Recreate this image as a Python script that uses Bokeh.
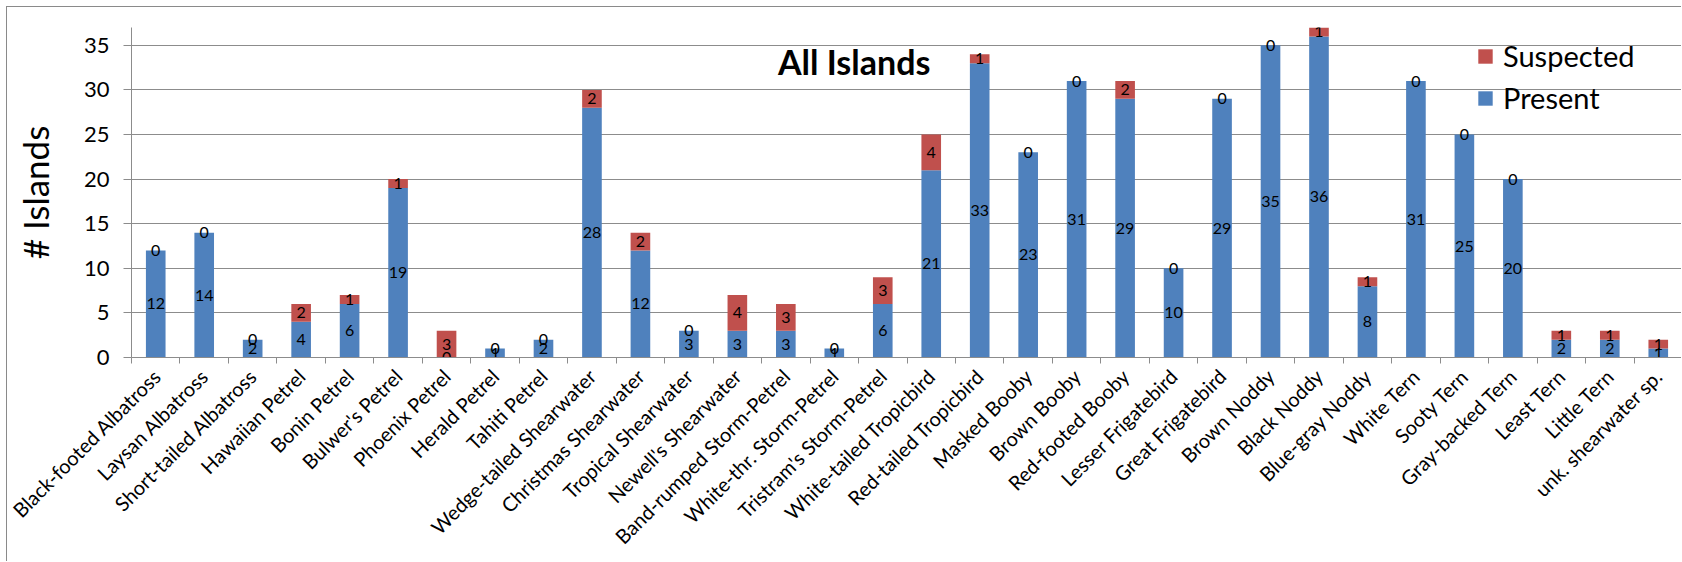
import math
from bokeh.plotting import figure
from bokeh.models import (ColumnDataSource, Range1d, FixedTicker, Legend, LegendItem, Label)
from bokeh.core.properties import value
from bokeh.embed import file_html
from bokeh.resources import INLINE

species = ["Black-footed Albatross", "Laysan Albatross", "Short-tailed Albatross", "Hawaiian Petrel",
           "Bonin Petrel", "Bulwer's Petrel", "Phoenix Petrel", "Herald Petrel", "Tahiti Petrel",
           "Wedge-tailed Shearwater", "Christmas Shearwater", "Tropical Shearwater", "Newell's Shearwater",
           "Band-rumped Storm-Petrel", "White-thr. Storm-Petrel", "Tristram's Storm-Petrel",
           "White-tailed Tropicbird", "Red-tailed Tropicbird", "Masked Booby", "Brown Booby",
           "Red-footed Booby", "Lesser Frigatebird", "Great Frigatebird", "Brown Noddy", "Black Noddy",
           "Blue-gray Noddy", "White Tern", "Sooty Tern", "Gray-backed Tern", "Least Tern",
           "Little Tern", "unk. shearwater sp."]
present = [12, 14, 2, 4, 6, 19, 0, 1, 2, 28, 12, 3, 3, 3, 1, 6, 21, 33, 23, 31, 29, 10, 29, 35, 36,
           8, 31, 25, 20, 2, 2, 1]
suspected = [0, 0, 0, 2, 1, 1, 3, 0, 0, 2, 2, 0, 4, 3, 0, 3, 4, 1, 0, 0, 2, 0, 0, 0, 1, 1, 0, 0, 0,
             1, 1, 1]
y_ticks = [0, 5, 10, 15, 20, 25, 30, 35]
title_text = "All Islands"
y_title = "# Islands"

BLUE = "#4F81BD"
RED = "#C0504D"
GRID = "#8c8c8c"
FONT = "Lato"

n = len(species)
xs = [i + 0.5 for i in range(n)]
src = ColumnDataSource(dict(
    x=xs, present=present, suspected=suspected,
    p_mid=[p / 2 for p in present],
    s_mid=[p + s / 2 for p, s in zip(present, suspected)],
    p_txt=[str(v) for v in present], s_txt=[str(v) for v in suspected],
))

p = figure(width=1675, height=555, x_range=Range1d(0, n), y_range=Range1d(0, 37),
           output_backend="svg", toolbar_location=None,
           min_border_left=124, min_border_right=0, min_border_top=20, min_border_bottom=205)
p.styles = {"margin-left": "6px", "margin-top": "6px",
            "border-left": "1px solid #8a8a8a", "border-top": "1px solid #8a8a8a"}
p.outline_line_color = None
p.background_fill_color = "white"
p.border_fill_color = "white"

rs = p.vbar_stack(["present", "suspected"], x="x", width=0.405, color=[BLUE, RED], source=src,
                  line_color=None)

p.text(x="x", y="p_mid", text="p_txt", source=src, text_align="center", text_baseline="middle",
       text_font=value(FONT), text_font_size="16px", text_color="black")
p.text(x="x", y="s_mid", text="s_txt", source=src, text_align="center", text_baseline="middle",
       text_font=value(FONT), text_font_size="16px", text_color="black")

# axes
p.xgrid.visible = False
p.ygrid.grid_line_color = GRID
p.ygrid.grid_line_width = 1
p.ygrid.ticker = FixedTicker(ticks=y_ticks)

ya = p.yaxis[0]
ya.ticker = FixedTicker(ticks=y_ticks)
ya.axis_line_color = GRID
ya.major_tick_line_color = GRID
ya.major_tick_out = 8
ya.major_tick_in = 0
ya.minor_tick_line_color = None
ya.major_label_text_font = FONT
ya.major_label_text_font_size = "22px"
ya.major_label_text_color = "black"
ya.major_label_standoff = 14
ya.axis_label = y_title
ya.axis_label_text_font = FONT
ya.axis_label_text_font_style = "normal"
ya.axis_label_text_font_size = "35px"
ya.axis_label_text_color = "black"
ya.axis_label_standoff = 25

xa = p.xaxis[0]
xa.ticker = FixedTicker(ticks=xs, minor_ticks=list(range(n + 1)))
xa.major_label_overrides = {x: name for x, name in zip(xs, species)}
xa.axis_line_color = GRID
xa.major_tick_line_color = None
xa.major_tick_out = 0
xa.major_tick_in = 0
xa.minor_tick_line_color = GRID
xa.minor_tick_out = 6
xa.minor_tick_in = 0
xa.major_label_orientation = math.pi / 4
xa.major_label_text_font = FONT
xa.major_label_text_font_size = "20px"
xa.major_label_text_color = "black"
xa.major_label_standoff = 9

# title inside the plot area
p.add_layout(Label(x=14.91, y=33.2, text=title_text, text_align="center", text_baseline="alphabetic",
                   text_font=FONT, text_font_size="34px", text_font_style="bold", text_color="black"))

legend = Legend(items=[LegendItem(label="Suspected", renderers=[rs[1]]),
                       LegendItem(label="Present", renderers=[rs[0]])],
                location=(1345, 242), orientation="vertical",
                label_text_font=FONT, label_text_font_size="29px", label_text_color="black",
                glyph_width=18, glyph_height=18, label_standoff=9, spacing=7,
                padding=0, margin=0, border_line_color=None, background_fill_alpha=0)
p.add_layout(legend)

open("out.html", "w").write(file_html(p, INLINE))
